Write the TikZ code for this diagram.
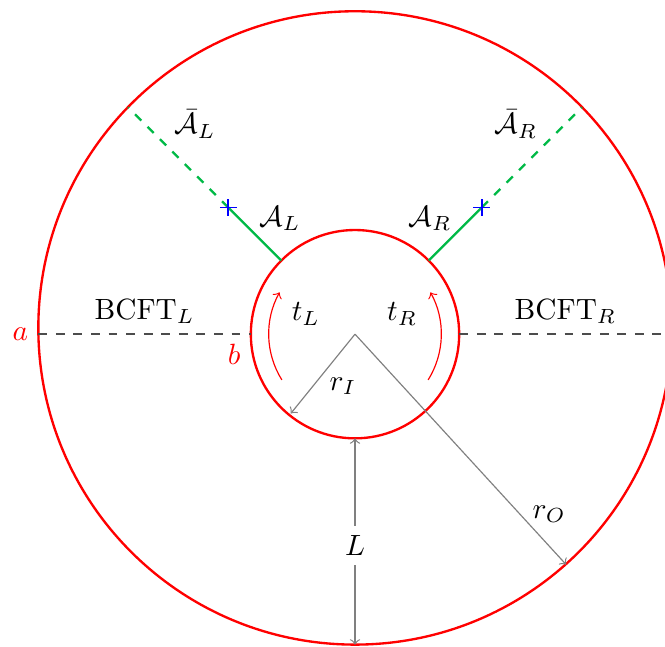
\documentclass[tikz,border=0pt]{standalone}
\definecolor{bulkgreen}{RGB}{0,185,70}
\tikzset{
  bdry/.style={red,thick},
  cut/.style={dashed,black!70,semithick},
  isl/.style={bulkgreen,thick},
  dim/.style={gray,->}
}
\begin{document}
\begin{tikzpicture}[scale=0.5]
        \useasboundingbox (-8.52,-7.49) rectangle (7.44,8.02);
        % two boundaries of the annulus
        \coordinate (o) at (0,0);
        \coordinate (oc) at (0,0.15);
        \draw[bdry] (oc) circle (7.6);
        \draw[bdry] (o) circle (2.5);
        % horizontal cuts, BCFT regions
        \coordinate (a) at (-7.6,0);
        \coordinate (b) at (-2.5,0);
        \coordinate (bR) at (2.5,0);
        \coordinate (aR) at (7.6,0);
        \draw[cut] (a) -- node[above,text=black] {BCFT$_L$} (b);
        \draw[cut] (bR) -- node[above,text=black] {BCFT$_R$} (aR);
        \node[red,left] (la) at (a) {$a$};
        \node[red,below left] (lb) at (b) {$b$};
        % islands and their complements
        \foreach \s/\a in {L/135,R/45}{
            \coordinate (q\s) at (\a:2.5);
            \coordinate (x\s) at (\a:4.3);
            \coordinate (p\s) at (\a:7.7);
            \draw[isl] (q\s) -- (x\s);
            \draw[isl,dashed] (x\s) -- (p\s);
        }
        \foreach \s in {L,R}{\draw[blue,semithick] (x\s) +(-0.2,0) -- +(0.2,0) +(0,-0.2) -- +(0,0.2);}
        \node (AL) at (-1.80,2.78) {$\mathcal{A}_L$};
        \node (AR) at (1.80,2.78) {$\mathcal{A}_R$};
        \node (bAL) at (-3.84,5.04) {$\bar{\mathcal{A}}_L$};
        \node (bAR) at (3.86,5.04) {$\bar{\mathcal{A}}_R$};
        % time directions
        \draw[->,red] (212:2.07) arc[start angle=212,end angle=151,radius=2.07];
        \draw[->,red] (328:2.07) arc[start angle=328,end angle=389,radius=2.07];
        \node (tL) at (-1.18,0.48) {$t_L$};
        \node (tR) at (1.13,0.48) {$t_R$};
        % radii and width
        \coordinate (rI) at (231:2.45);
        \coordinate (rO) at (-47.5:7.5);
        \draw[dim] (o) -- (rI);
        \draw[dim] (o) -- (rO);
        \node (lrI) at (-0.29,-1.25) {$r_I$};
        \node (lrO) at (4.66,-4.32) {$r_O$};
        \coordinate (Lt) at (0,-2.5);
        \coordinate (Lb) at (0,-7.45);
        \draw[dim,<->] (Lt) -- node[fill=white,text=black,pos=0.52] (lL) {$L$} (Lb);
    \end{tikzpicture}
\end{document}
